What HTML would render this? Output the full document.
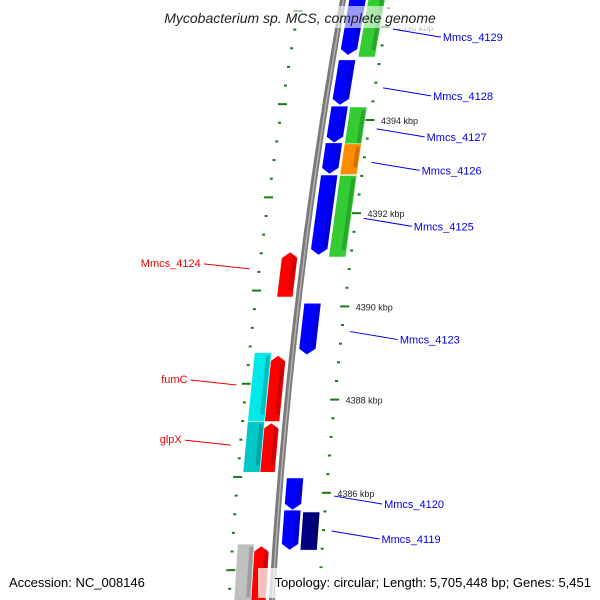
<!DOCTYPE html>
<html><head><meta charset="utf-8"><style>
body{margin:0;width:600px;height:600px;overflow:hidden;background:#fff;font-family:"Liberation Sans","DejaVu Sans",sans-serif}
svg{display:block}
</style></head><body>
<svg id="map" width="600" height="600" xmlns="http://www.w3.org/2000/svg">
<g id="ticks"></g>
<path id="backbone" fill="none" stroke="#7a7a7a" stroke-width="6"/>
<path id="backbone2" fill="none" stroke="#b0b0b0" stroke-width="1.5"/>
<g id="genes"></g>
<g id="labels"></g>
<rect x="150" y="6" width="300" height="22" fill="#fff" opacity="0.6"/>
<text x="300" y="23" text-anchor="middle" font-style="italic" font-size="14" fill="#222">Mycobacterium sp. MCS, complete genome</text>
<rect x="0" y="568" width="140" height="30" fill="#fff" opacity="0.6"/>
<text x="9" y="587" font-size="13" fill="#000">Accession: NC_008146</text>
<rect x="258" y="568" width="338" height="30" fill="#fff" opacity="0.75"/>
<text x="591" y="587" text-anchor="end" font-size="13" fill="#000">Topology: circular; Length: 5,705,448 bp; Genes: 5,451</text>
</svg>
<script>
// genes: start/end in kbp, lane, color, strand
const geneStart=[4396.68,4395.29,4394.30,4393.51,4392.82,4390.07,4386.32,4385.63, 4396.68,4394.28,4393.49,4392.81, 4385.59, 4391.17,4388.95,4387.50,4384.86, 4389.01,4387.53,4384.90];
const geneEnd  =[4395.39,4394.32,4393.51,4392.84,4391.10,4388.96,4385.63,4384.77, 4395.35,4392.81,4392.83,4391.06, 4384.77, 4390.20,4387.53,4386.44,4383.60, 4387.53,4386.44,4383.60];
const geneLane =[1,1,1,1,1,1,1,1, 2,2,2,2, 2, -1,-1,-1,-1, -2,-2,-2];
const geneColor=["#0000ff","#0000ff","#0000ff","#0000ff","#0000ff","#0000ff","#0000ff","#0000ff","#33cc33","#33cc33","#ff8c00","#33cc33","#000080","#ff0000","#ff0000","#ff0000","#ff0000","#00e8e8","#00c8c8","#c0c0c0"];
const geneArrow=["down","down","down","down","down","down","down","down","none","none","none","none","none","up","up","up","up","none","none","none"];
const majorKbp=[4396,4394,4392,4390,4388,4386,4384];
const labelNames=["Mmcs_4129","Mmcs_4128","Mmcs_4127","Mmcs_4126","Mmcs_4125","Mmcs_4123","Mmcs_4120","Mmcs_4119","Mmcs_4124","fumC","glpX"];
const labelKbp=[4395.95,4394.69,4393.81,4393.09,4391.89,4389.46,4385.93,4385.18,4390.89,4388.40,4387.11];
const labelSide=[1,1,1,1,1,1,1,1,-1,-1,-1];

const NS="http://www.w3.org/2000/svg";
function yOf(k){return 120+(4394-k)*46.6;}
function bx(y){return 343-0.1786*y+0.0001004*y*y;}
function mk(t,a,p){const e=document.createElementNS(NS,t);for(const k in a)e.setAttribute(k,a[k]);p.appendChild(e);return e;}

let d="";for(let y=-10;y<=610;y+=10)d+=(y<0?"M":"L")+bx(y).toFixed(1)+","+y;
document.getElementById("backbone").setAttribute("d",d);
let d2="";for(let y=-10;y<=610;y+=10)d2+=(y<0?"M":"L")+(bx(y)+0.5).toFixed(1)+","+y;
document.getElementById("backbone2").setAttribute("d",d2);

// ticks
const tg=document.getElementById("ticks");
for(let k=4397.2;k>=4383.0;k-=0.4){
  const kk=Math.round(k*10)/10;
  const major=majorKbp.some(m=>Math.abs(m-kk)<0.05);
  [[1,0],[-1,0.34]].forEach(([s,ph])=>{
    const y=yOf(kk+ph);const x=bx(y)+(s>0?47:-43);
    const w=major?9:3;
    const r=mk("rect",{x:x-w/2,y:y-1,width:w,height:2,fill:"#1a7a1a"},tg);
    
    
  });
}
majorKbp.forEach(m=>{
  const y=yOf(m);const x=bx(y)+58;
  const t=mk("text",{x:x,y:y+4,"font-size":"9",fill:m==4396||m==4384?"#bbb":"#222"},tg);
  t.textContent=m+" kbp";
  
  
});

// genes
const gg=document.getElementById("genes");
const laneOff={"1":[6,23],"2":[25,42],"-1":[-22,-6],"-2":[-38,-21]};
for(let i=0;i<geneStart.length;i++){
  const y1=yOf(geneStart[i]),y2=yOf(geneEnd[i]);
  const [a,b]=laneOff[geneLane[i]];
  const X=(y,o)=>(bx(y)+o).toFixed(1);
  let pts;
  if(geneArrow[i]=="down"){
    const yt=y2-6;
    pts=[[X(y1,a),y1],[X(y1,b),y1],[X(yt,b),yt],[X(y2,(a+b)/2),y2],[X(yt,a),yt]];
  }else if(geneArrow[i]=="up"){
    const yt=y1+6;
    pts=[[X(y1,(a+b)/2),y1],[X(yt,b),yt],[X(y2,b),y2],[X(y2,a),y2],[X(yt,a),yt]];
  }else pts=[[X(y1,a),y1],[X(y1,b),y1],[X(y2,b),y2],[X(y2,a),y2]];
  const p=mk("polygon",{points:pts.map(q=>q.join(",")).join(" "),fill:geneColor[i],stroke:"#fff","stroke-width":"0.6"},gg);
  
  
  const s=mk("line",{x1:X(y1+3,b-3),y1:y1+3,x2:X(y2-7,b-3),y2:y2-7,stroke:"#000","stroke-opacity":"0.18","stroke-width":"4"},gg);
  
  
}

// labels
const lg=document.getElementById("labels");
for(let i=0;i<labelNames.length;i++){
  const y=yOf(labelKbp[i]);const s=labelSide[i];
  const col=s>0?"#0000ee":"#ee0000";
  let l,t;
  if(s>0){
    const x0=bx(y)+55,x1=x0+48;
    l=mk("line",{x1:x0,y1:y,x2:x1,y2:y+8,stroke:col,"stroke-width":"1"},lg);
    t=mk("text",{x:x1+2,y:y+12,"font-size":"11",fill:col,"text-anchor":"start"},lg);
  }else{
    const x0=bx(y)-53,x1=x0-46;
    l=mk("line",{x1:x0,y1:y+4,x2:x1,y2:y-1,stroke:col,"stroke-width":"1"},lg);
    t=mk("text",{x:x1-3,y:y+2,"font-size":"11",fill:col,"text-anchor":"end"},lg);
  }
  
  
  t.textContent=labelNames[i];
  
  
}
</script>
</body></html>
